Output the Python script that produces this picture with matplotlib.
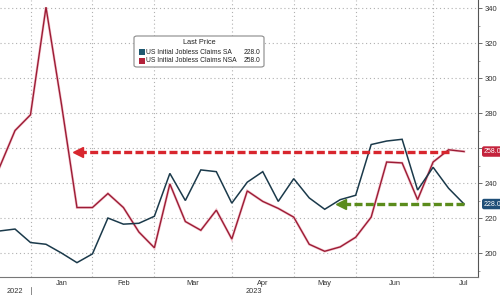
import numpy as np
import pandas as pd
import matplotlib
matplotlib.use("Agg")
import matplotlib.pyplot as plt
import matplotlib.dates as mdates
from matplotlib.patches import FancyBboxPatch, Rectangle

plt.rcParams["font.family"] = ["Liberation Sans", "DejaVu Sans"]

# Weekly initial jobless claims (thousands), Thursday release dates
dates = pd.date_range("2022-12-22", periods=31, freq="7D")
sa = [212.6, 213.7, 206, 205, 200, 194.5, 199.5, 220, 216.5, 217, 221, 245.5,
      230, 247.5, 246.5, 228.5, 240.5, 246.5, 229.5, 242.5, 231.5, 225, 230.5,
      233, 262, 264, 265, 236, 249, 237, 228]
nsa = [249, 270, 279, 340.5, 285, 226, 226, 234, 226, 212, 203, 239.5, 218,
       213, 224.5, 208, 235.5, 229.5, 225.5, 220.5, 205, 201, 203.5, 209,
       220.5, 252, 251.5, 230.5, 252, 259, 258]
series_names = ["US Initial Jobless Claims SA", "US Initial Jobless Claims NSA"]
y_ticks = [200, 220, 240, 260, 280, 300, 320, 340]

# arrow spans in weeks from first date (start of dashed line -> arrow tip)
red_arrow_weeks = (29, 4.8)
green_arrow_weeks = (30, 21.8)

c_sa = "#1b3a4b"
c_nsa = "#9c1c35"
c_red_arrow = "#d8262e"
c_green_arrow = "#5b8c1c"

W, H = 500, 295
fig = plt.figure(figsize=(W / 100, H / 100), dpi=100)
ax = fig.add_axes([0, 1 - 277 / H, 478 / W, 277 / H])

def wk(w):
    return dates[0] + pd.Timedelta(days=7 * w)

ax.set_xlim(wk(0.03), wk(30.9))
ax.set_ylim(186.3, 344.6)

# grid lines at first data week of each month
month_starts = [d for i, d in enumerate(dates) if i == 0 or d.month != dates[i - 1].month][1:]
for d in month_starts:
    ax.axvline(d, color="#b0b0b0", lw=0.8, ls=(0, (1, 2.5)), zorder=0)
for v in y_ticks:
    ax.axhline(v, color="#b0b0b0", lw=0.8, ls=(0, (1, 2.5)), zorder=0)

ax.plot(dates, nsa, color="#f4c6cf", lw=1.9, zorder=2, solid_joinstyle="miter")
ax.plot(dates, nsa, color=c_nsa, lw=1.0, zorder=3, solid_joinstyle="miter")
ax.plot(dates, sa, color=c_sa, lw=1.1, zorder=3, solid_joinstyle="miter")

# dashed arrows at last values
for (w0, w1), lvl, col in [(red_arrow_weeks, nsa[-1], c_red_arrow),
                           (green_arrow_weeks, sa[-1], c_green_arrow)]:
    ax.plot([wk(w0), wk(w1 + 0.5)], [lvl, lvl], color=col, lw=2.4,
            ls=(0, (2.4, 1.0)), zorder=4, solid_capstyle="butt")
    ax.plot(wk(w1 + 0.25), lvl, marker="<", ms=7, color=col, mec=col, zorder=4)

# axes styling
for s in ["top", "left"]:
    ax.spines[s].set_visible(False)
ax.spines["right"].set_color("#555555")
ax.spines["bottom"].set_color("#777777")
ax.spines["right"].set_linewidth(0.8)
ax.spines["bottom"].set_linewidth(0.8)
ax.yaxis.tick_right()
ax.set_yticks(y_ticks)
# tick labels hidden behind the last-value boxes
ax.set_yticklabels(["" if min(abs(t - nsa[-1]), abs(t - sa[-1])) < 5 else str(t)
                    for t in y_ticks])
ax.set_yticks(np.arange(190, 345, 10), minor=True)
ax.tick_params(axis="y", which="major", length=3, width=0.6, pad=2,
               labelsize=5.5, labelcolor="#333333", color="#555555")
ax.tick_params(axis="y", which="minor", length=1.5, width=0.5, color="#777777")
ax.set_xticks([])

# month labels centred between month grid lines
edges = month_starts + [month_starts[-1] + pd.Timedelta(days=28)]
for a, b in zip(edges[:-1], edges[1:]):
    mid = a + (b - a) / 2
    ax.text(mdates.date2num(mid), -0.022, a.strftime("%b"), transform=ax.get_xaxis_transform(),
            ha="center", va="center", fontsize=5.3, color="#333333", clip_on=False)

# year labels
xl = ax.get_xlim()
x_jan = mdates.date2num(month_starts[0])
for x0, x1, label in [(xl[0], x_jan, "2022"), (x_jan, xl[1], "2023")]:
    ax.text((x0 + x1) / 2, -0.052, label, transform=ax.get_xaxis_transform(),
            ha="center", va="center", fontsize=5.3, color="#333333", clip_on=False)
ax.plot([x_jan, x_jan], [-0.036, -0.066], transform=ax.get_xaxis_transform(),
        color="#777777", lw=0.6, clip_on=False)

# last value boxes
for val, col in [(nsa[-1], "#c4233c"), (sa[-1], "#1f4f78")]:
    ax.text(1.012, val, f"{val:.1f}", transform=ax.get_yaxis_transform(),
            ha="left", va="center", fontsize=5.0, color="white", clip_on=False,
            bbox=dict(boxstyle="round,pad=0.25,rounding_size=0.3", fc=col, ec="none"))

# legend box
def fx(px):
    return px / W

def fy(py):
    return 1 - py / H

box = FancyBboxPatch((fx(134), fy(67)), fx(130), 31 / H, transform=fig.transFigure,
                     boxstyle="round,pad=0,rounding_size=0.006", fc="white",
                     ec="#8a8a8a", lw=0.8, zorder=5)
fig.patches.append(box)
fig.text(fx(199), fy(43), "Last Price", ha="center", va="center", fontsize=5.3,
         color="#222222", zorder=6)
for k, (name, vals, col) in enumerate([(series_names[0], sa, "#1e5870"),
                                       (series_names[1], nsa, "#b3223a")]):
    yy = 52 + 9 * k
    fig.patches.append(Rectangle((fx(138.5), fy(yy + 3)), fx(6), 6 / H,
                                 transform=fig.transFigure, fc=col, ec="none", zorder=6))
    fig.text(fx(146), fy(yy), name, ha="left", va="center", fontsize=4.9,
             color="#222222", zorder=6)
    fig.text(fx(260), fy(yy), f"{vals[-1]:.1f}", ha="right", va="center",
             fontsize=4.9, color="#222222", zorder=6)

fig.savefig("out.png", dpi=100, facecolor="white")
